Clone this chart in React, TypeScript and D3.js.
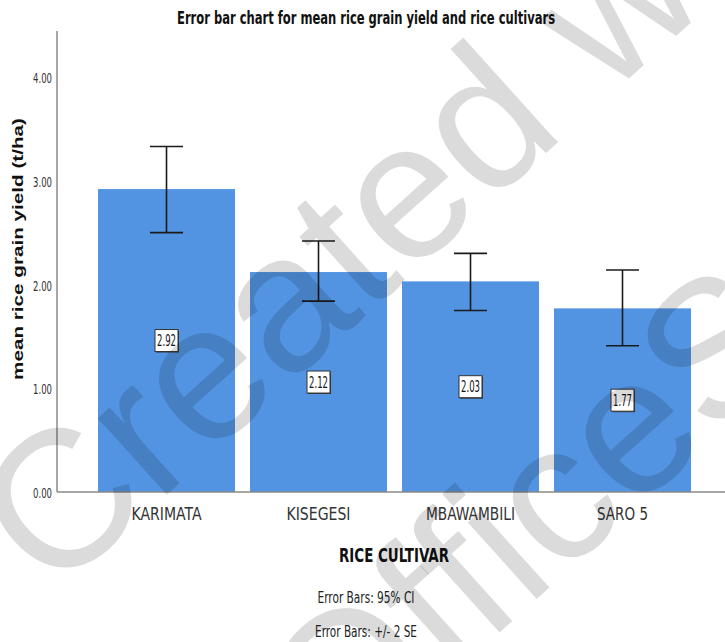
import React from "react";
import * as d3 from "d3";

const categories = ["KARIMATA", "KISEGESI", "MBAWAMBILI", "SARO 5"];
const means = [2.92, 2.12, 2.03, 1.77];
const ciLow = [2.5, 1.84, 1.75, 1.41];
const ciHigh = [3.33, 2.42, 2.3, 2.14];
const yTicks = [0, 1, 2, 3, 4];
const valueLabels = ["2.92", "2.12", "2.03", "1.77"];
const catLabelWidths = [70, 64, 89, 51];

const W = 725;
const H = 642;
const NARROW = "'Liberation Sans Narrow','Arial Narrow','DejaVu Sans Condensed',sans-serif";
const SANS = "'Liberation Sans',Arial,sans-serif";

export default function App() {
  const x = d3
    .scaleBand<string>()
    .domain(categories)
    .range([90.5, 698.5])
    .paddingInner(0.0987)
    .paddingOuter(0.0494);
  const y = d3.scaleLinear().domain([0, 4]).range([492, 77]);
  const bw = x.bandwidth();

  // watermark geometry
  const ang = -42;
  const rad = (ang * Math.PI) / 180;
  const ux = Math.cos(rad);
  const uy = Math.sin(rad);
  const dx = -Math.sin(rad);
  const dy = Math.cos(rad);
  const s1 = [52, 598];
  const along2 = 90;
  const down2 = 325;
  const s2 = [s1[0] + ux * along2 + dx * down2, s1[1] + uy * along2 + dy * down2];

  return (
    <svg
      width={W}
      height={H}
      style={{ position: "absolute", left: 0, top: 0, background: "#fff" }}
    >
      <rect x={0} y={0} width={W} height={H} fill="#fff" />
      {/* title */}
      <text
        x={366}
        y={24}
        textAnchor="middle"
        fontFamily={NARROW}
        fontWeight="bold"
        fontSize={17}
        textLength={378}
        lengthAdjust="spacingAndGlyphs"
        fill="#111"
      >
        Error bar chart for mean rice grain yield and rice cultivars
      </text>

      {/* bars */}
      {categories.map((c, i) => (
        <rect
          key={c}
          x={x(c)}
          y={y(means[i])}
          width={bw}
          height={y(0) - y(means[i])}
          fill="#5294e2"
        />
      ))}

      {/* axes */}
      <line x1={57} x2={57} y1={31} y2={492} stroke="#8a8a8a" strokeWidth={1.5} />
      <line x1={57} x2={W} y1={492} y2={492} stroke="#8a8a8a" strokeWidth={1.5} />
      {yTicks.map((t) => (
        <text
          key={t}
          x={52}
          y={y(t) + 6}
          textAnchor="end"
          fontFamily={NARROW}
          fontSize={14}
          textLength={19}
          lengthAdjust="spacingAndGlyphs"
          fill="#333"
        >
          {t.toFixed(2)}
        </text>
      ))}

      {/* y axis label */}
      <text
        transform={`translate(23,249) rotate(-90)`}
        textAnchor="middle"
        fontFamily={SANS}
        fontWeight="bold"
        fontSize={15}
        textLength={262}
        lengthAdjust="spacingAndGlyphs"
        fill="#111"
      >
        mean rice grain yield (t/ha)
      </text>

      {/* category labels */}
      {categories.map((c, i) => (
        <text
          key={c}
          x={(x(c) as number) + bw / 2}
          y={520}
          textAnchor="middle"
          fontFamily={NARROW}
          fontSize={18}
          textLength={catLabelWidths[i]}
          lengthAdjust="spacingAndGlyphs"
          fill="#333"
        >
          {c}
        </text>
      ))}

      {/* error bars */}
      {categories.map((c, i) => {
        const cx = (x(c) as number) + bw / 2;
        return (
          <g key={c} stroke="#1a1a1a" strokeWidth={1.6}>
            <line x1={cx} x2={cx} y1={y(ciHigh[i])} y2={y(ciLow[i])} />
            <line x1={cx - 16.5} x2={cx + 16.5} y1={y(ciHigh[i])} y2={y(ciHigh[i])} />
            <line x1={cx - 16.5} x2={cx + 16.5} y1={y(ciLow[i])} y2={y(ciLow[i])} />
          </g>
        );
      })}

      {/* value labels */}
      {categories.map((c, i) => {
        const cx = (x(c) as number) + bw / 2;
        const cy = y(means[i] / 2);
        return (
          <g key={c}>
            <rect x={cx - 10.5} y={cy - 10} width={23} height={22} fill="#3a3a3a" />
            <rect x={cx - 11.5} y={cy - 11} width={23} height={22} fill="#fff" stroke="#333" strokeWidth={1} />
            <text
              x={cx}
              y={cy + 5.5}
              textAnchor="middle"
              fontFamily={NARROW}
              fontSize={15}
              textLength={19}
              lengthAdjust="spacingAndGlyphs"
              fill="#111"
            >
              {valueLabels[i]}
            </text>
          </g>
        );
      })}

      {/* x axis title */}
      <text
        x={394}
        y={562}
        textAnchor="middle"
        fontFamily={NARROW}
        fontWeight="bold"
        fontSize={19}
        textLength={110}
        lengthAdjust="spacingAndGlyphs"
        fill="#111"
      >
        RICE CULTIVAR
      </text>
      <text
        x={366}
        y={603}
        textAnchor="middle"
        fontFamily={NARROW}
        fontSize={15}
        textLength={97}
        lengthAdjust="spacingAndGlyphs"
        fill="#222"
      >
        Error Bars: 95% CI
      </text>
      <text
        x={366}
        y={637}
        textAnchor="middle"
        fontFamily={NARROW}
        fontSize={15}
        textLength={102}
        lengthAdjust="spacingAndGlyphs"
        fill="#222"
      >
        Error Bars: +/- 2 SE
      </text>

      {/* watermark */}
      <g fill="#000" fillOpacity={0.14} fontFamily={SANS} fontSize={195}>
        <text transform={`translate(${s1[0]},${s1[1]}) rotate(${ang})`}>Created with</text>
        <text transform={`translate(${s2[0]},${s2[1]}) rotate(${ang})`}>OfficeSuite</text>
      </g>
    </svg>
  );
}
